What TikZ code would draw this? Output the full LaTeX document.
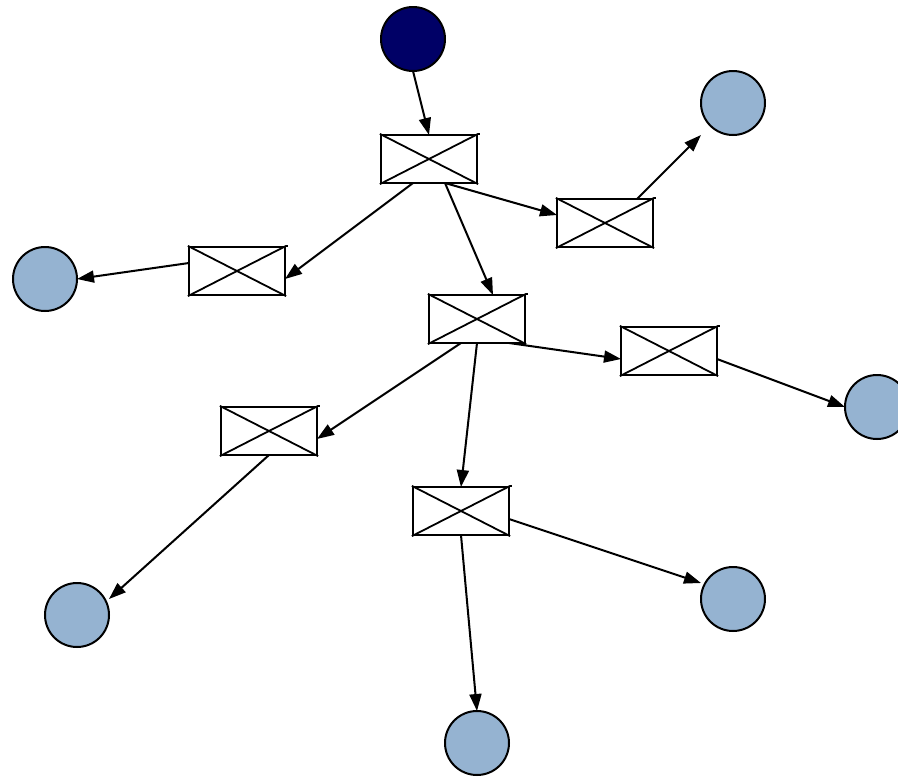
\documentclass[tikz,border=0pt]{standalone}
\usetikzlibrary{arrows.meta,calc}
\definecolor{lightblue}{HTML}{95B3D1}
\definecolor{navy}{HTML}{000066}
\tikzset{
  place/.style={circle,draw=black,line width=2pt,minimum size=64pt,inner sep=0pt,fill=lightblue},
  startplace/.style={place,fill=navy},
  trans/.style={rectangle,draw=black,line width=2.2pt,minimum width=96pt,minimum height=48pt,inner sep=0pt},
  arc/.style={line width=2pt,-{Triangle[length=17pt,width=12pt]}},
  cross/.style={line width=1.8pt}
}
\newcommand{\transbox}[2]{%
  \node[trans] (#1) at #2 {};
  \draw[cross] (#1.north west) -- (#1.south east);
  \draw[cross] (#1.south west) -- (#1.north east);
  \draw[cross] (#1.north east) -- ++(2,0);
}
\begin{document}
\begin{tikzpicture}[x=1pt,y=-1pt]
\useasboundingbox (0,0) rectangle (898,777);
\node[startplace] (s) at (413,39) {};
\node[place] (p1) at (733,103) {};
\node[place] (p2) at (45,279) {};
\node[place] (p3) at (877,407) {};
\node[place] (p4) at (77,615) {};
\node[place] (p5) at (733,599) {};
\node[place] (p6) at (477,743) {};
\transbox{B1}{(429,159)}
\transbox{B2}{(605,223)}
\transbox{B3}{(237,271)}
\transbox{B4}{(477,319)}
\transbox{B5}{(669,351)}
\transbox{B6}{(269,431)}
\transbox{B7}{(461,511)}
\draw[arc] ($(s)+(0,32)$) -- ($(B1)+(0,-24)$);
\draw[arc] ($(B1)+(16,24)$) -- ($(B2)+(-48,-8)$);
\draw[arc] ($(B2)+(32,-24)$) -- ($(p1)+(-32,32)$);
\draw[arc] ($(B1)+(-16,24)$) -- ($(B3)+(48,8)$);
\draw[arc] ($(B3)+(-48,-8)$) -- ($(p2)+(32,0)$);
\draw[arc] ($(B1)+(16,24)$) -- ($(B4)+(16,-24)$);
\draw[arc] ($(B4)+(32,24)$) -- ($(B5)+(-48,8)$);
\draw[arc] ($(B5)+(48,8)$) -- ($(p3)+(-32,0)$);
\draw[arc] ($(B4)+(-16,24)$) -- ($(B6)+(48,8)$);
\draw[arc] ($(B4)+(0,24)$) -- ($(B7)+(0,-24)$);
\draw[arc] ($(B6)+(0,24)$) -- ($(p4)+(32,-16)$);
\draw[arc] ($(B7)+(48,8)$) -- ($(p5)+(-32,-16)$);
\draw[arc] ($(B7)+(0,24)$) -- ($(p6)+(0,-32)$);
\end{tikzpicture}
\end{document}
